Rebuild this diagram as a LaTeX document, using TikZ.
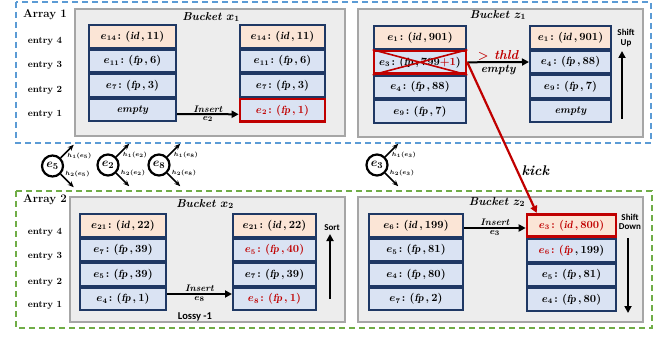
\documentclass[tikz,border=0pt]{standalone}
\usepackage{amsmath}
\usepackage{amssymb}
\usepackage{fontspec}
\newfontfamily\calib{Carlito}
\usetikzlibrary{positioning,arrows.meta}
\definecolor{navy}{HTML}{1F3864}
\definecolor{peach}{HTML}{FBE5D6}
\definecolor{pale}{HTML}{DAE3F3}
\definecolor{dred}{HTML}{C00000}
\definecolor{skyblue}{HTML}{5B9BD5}
\definecolor{leaf}{HTML}{70AD47}
\definecolor{bucketgray}{HTML}{EDEDED}
\definecolor{rimgray}{HTML}{A6A6A6}
\newcommand{\pair}[3]{$e_{#1}\colon(\mathit{#2}\,,#3)$}
\tikzset{
 slot/.style={draw=navy,line width=2pt,minimum height=22.5pt,inner sep=0pt,font=\boldmath\bfseries\fontsize{10.5}{11}\selectfont},
 idslot/.style={slot,fill=peach},
 fpslot/.style={slot,fill=pale},
 hot/.style={draw=dred,line width=2.6pt},
 bucket/.style={draw=rimgray,fill=bucketgray,line width=1.6pt},
 frame/.style={dashed,dash pattern=on 6pt off 4pt,line width=1.6pt},
 arr/.style={-{Triangle[length=7pt,width=7pt]},line width=2pt},
 lab/.style={font=\bfseries\fontsize{9.5}{10}\selectfont},
 title/.style={font=\boldmath\bfseries\itshape\fontsize{11.5}{12}\selectfont},
 small/.style={font=\boldmath\bfseries\itshape\fontsize{9.5}{10}\selectfont,inner sep=1pt},
 sanslab/.style={font=\calib\bfseries\fontsize{9}{9.5}\selectfont,align=center,inner sep=0pt},
 hashc/.style={circle,draw,line width=2.2pt,minimum size=21pt,inner sep=0pt,font=\boldmath\fontsize{13}{13}\selectfont},
 hasharr/.style={-{Stealth[length=6pt,width=5pt]},line width=1.7pt},
 hashlab/.style={font=\boldmath\fontsize{6}{6}\selectfont,inner sep=0pt}
}
\begin{document}
\begin{tikzpicture}[x=1pt,y=-1pt]
\useasboundingbox (0,0) rectangle (670,337);
\draw[skyblue,frame](16,2) rectangle (651,143);
\draw[leaf,frame](16,191) rectangle (652,328);
\draw[bucket](75,9) rectangle (345,136);
\draw[bucket](358,9) rectangle (643,137);
\draw[bucket](70,197) rectangle (345,322);
\draw[bucket](358,197) rectangle (643,322);

\node[title,font=\bfseries\fontsize{11.5}{12}\selectfont] (arr1) at (45,15) {Array 1};
\node[title,font=\bfseries\fontsize{11.5}{12}\selectfont] (arr2) at (45,200) {Array 2};
\node[lab] (en14) at (45,41) {entry 4};
\node[lab] (en13) at (45,65) {entry 3};
\node[lab] (en12) at (45,90) {entry 2};
\node[lab] (en11) at (45,114) {entry 1};
\node[lab] (en24) at (45,232) {entry 4};
\node[lab] (en23) at (45,256) {entry 3};
\node[lab] (en22) at (45,282) {entry 2};
\node[lab] (en21) at (45,305) {entry 1};

\node[title] (bx1) at (211,17) {Bucket $x_1$};
\node[title] (bz1) at (498,15) {Bucket $z_1$};
\node[title] (bx2) at (205,204) {Bucket $x_2$};
\node[title] (bz2) at (497,202) {Bucket $z_2$};

\node[idslot,minimum width=87pt] (x1a1) at (132.5,36.5) {\pair{14}{id}{11}};
\node[fpslot,minimum width=87pt,below=0pt of x1a1] (x1a2) {\pair{11}{fp}{6}};
\node[fpslot,minimum width=87pt,below=0pt of x1a2] (x1a3) {\pair{7}{fp}{3}};
\node[fpslot,minimum width=87pt,below=0pt of x1a3] (x1a4) {\textit{empty}};
\node[idslot,minimum width=85pt] (x1b1) at (282.5,36.5) {\pair{14}{id}{11}};
\node[fpslot,minimum width=85pt,below=0pt of x1b1] (x1b2) {\pair{11}{fp}{6}};
\node[fpslot,minimum width=85pt,below=0pt of x1b2] (x1b3) {\pair{7}{fp}{3}};
\node[fpslot,hot,text=dred,minimum width=85pt,below=0pt of x1b3] (x1b4) {\pair{2}{fp}{1}};

\node[idslot,minimum width=92pt] (z1a1) at (420,37.5) {\pair{1}{id}{901}};
\node[fpslot,hot,minimum width=92pt,below=0pt of z1a1] (z1a2) {$e_{3}\colon(\mathit{fp}\,,799{\color{dred}+1})$};
\node[fpslot,minimum width=92pt,below=0pt of z1a2] (z1a3) {\pair{4}{fp}{88}};
\node[fpslot,minimum width=92pt,below=0pt of z1a3] (z1a4) {\pair{9}{fp}{7}};
\node[idslot,minimum width=81pt] (z1b1) at (570.5,37.5) {\pair{1}{id}{901}};
\node[fpslot,minimum width=81pt,below=0pt of z1b1] (z1b2) {\pair{4}{fp}{88}};
\node[fpslot,minimum width=81pt,below=0pt of z1b2] (z1b3) {\pair{9}{fp}{7}};
\node[fpslot,minimum width=81pt,below=0pt of z1b3] (z1b4) {\textit{empty}};
\draw[dred,line width=1.6pt](z1a2.north west)--(z1a2.south east)(z1a2.south west)--(z1a2.north east);

\node[idslot,minimum width=86pt] (x2a1) at (123,225.5) {\pair{21}{id}{22}};
\node[fpslot,minimum width=86pt,below=0pt of x2a1] (x2a2) {\pair{7}{fp}{39}};
\node[fpslot,minimum width=86pt,below=0pt of x2a2] (x2a3) {\pair{5}{fp}{39}};
\node[fpslot,minimum width=86pt,below=0pt of x2a3] (x2a4) {\pair{4}{fp}{1}};
\node[idslot,minimum width=83pt] (x2b1) at (274.5,225.5) {\pair{21}{id}{22}};
\node[fpslot,text=dred,minimum width=83pt,below=0pt of x2b1] (x2b2) {\pair{5}{fp}{40}};
\node[fpslot,minimum width=83pt,below=0pt of x2b2] (x2b3) {\pair{7}{fp}{39}};
\node[fpslot,text=dred,minimum width=83pt,below=0pt of x2b3] (x2b4) {\pair{8}{fp}{1}};

\node[idslot,minimum width=94pt] (z2a1) at (416,225.5) {\pair{6}{id}{199}};
\node[fpslot,minimum width=94pt,below=0pt of z2a1] (z2a2) {\pair{5}{fp}{81}};
\node[fpslot,minimum width=94pt,below=0pt of z2a2] (z2a3) {\pair{4}{fp}{80}};
\node[fpslot,minimum width=94pt,below=0pt of z2a3] (z2a4) {\pair{7}{fp}{2}};
\node[idslot,hot,text=dred,minimum width=89pt] (z2b1) at (571.5,225.5) {\pair{3}{id}{800}};
\node[fpslot,minimum width=89pt,below=0pt of z2b1] (z2b2) {$\color{dred}e_{6}\colon(\mathit{fp}\color{black}\,,199)$};
\node[fpslot,minimum width=89pt,below=0pt of z2b2] (z2b3) {\pair{5}{fp}{81}};
\node[fpslot,minimum width=89pt,below=0pt of z2b3] (z2b4) {\pair{4}{fp}{80}};

\draw[arr]([yshift=-4pt]x1a4.east)--([yshift=-4pt]x1b4.west)
  node[small,midway,above]{Insert} node[small,midway,below]{$e_2$};
\draw[arr](z1a2.east)--(z1b2.west)
  node[small,midway,above,text=dred,font=\boldmath\bfseries\itshape\fontsize{13}{14}\selectfont]{$>$ thld}
  node[small,midway,below,inner sep=2pt,font=\boldmath\bfseries\itshape\fontsize{11.5}{12}\selectfont]{empty};
\draw[arr]([yshift=5pt]x2a4.east)--([yshift=5pt]x2b4.west)
  node[small,midway,above]{Insert} node[small,midway,below]{$e_8$};
\draw[arr]([yshift=-2.5pt]z2a1.east)--([yshift=-2.5pt]z2b1.west)
  node[small,midway,above]{Insert} node[small,midway,below]{$e_3$};
\node[sanslab,font=\calib\bfseries\fontsize{10.5}{11}\selectfont] (lossy) at (195,317) {Lossy -1};

\node[sanslab] (shup) at (626,38) {Shift\\Up};
\coordinate (upfoot) at (622,119);
\coordinate (uphead) at (622,51);
\draw[arr](upfoot)--(uphead);
\node[sanslab,fill=bucketgray] (srt) at (332,228) {Sort};
\coordinate (sortfoot) at (330,299);
\coordinate (sorthead) at (330,234);
\draw[arr](sortfoot)--(sorthead);
\node[sanslab] (shdown) at (630,222) {Shift\\Down};
\coordinate (downtop) at (628,238);
\coordinate (downfoot) at (628,313);
\draw[arr](downtop)--(downfoot);

\draw[dred,line width=2.2pt,-{Triangle[length=7pt,width=7pt]}](z1a2.east)--([xshift=11pt]z2b1.north west)
  node[pos=0.72,right,font=\boldmath\bfseries\itshape\fontsize{14}{15}\selectfont,text=black]{kick};

\node[hashc] (h5) at (52.5,166) {$e_5$};
\node[hashc] (h2) at (108,165) {$e_2$};
\node[hashc] (h8) at (159,165) {$e_8$};
\node[hashc] (h3) at (377,165) {$e_3$};
\foreach \c/\e in {h5/5,h2/2,h8/8,h3/3}{
  \draw[hasharr](\c.north east)--++(13,-13) node[hashlab,pos=0.45,anchor=north west]{$h_1(e_{\e})$};
  \draw[hasharr](\c.south east)--++(13,13) node[hashlab,pos=0.3,anchor=south west]{$h_2(e_{\e})$};
}
\end{tikzpicture}
\end{document}
